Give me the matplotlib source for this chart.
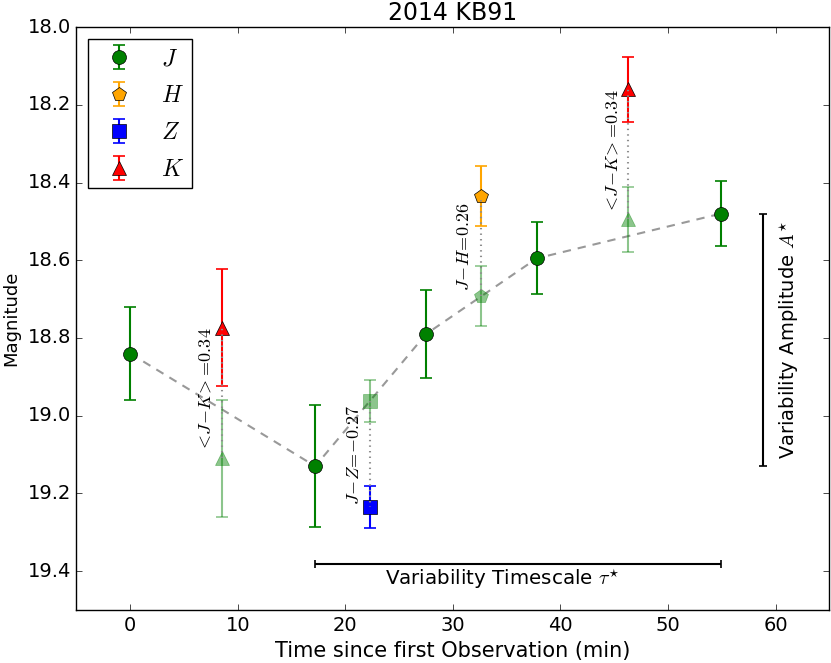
import numpy as np
import matplotlib
matplotlib.use("Agg")
import matplotlib.pyplot as plt

# J-band light curve
j_time = [0.0, 17.2, 27.5, 37.8, 54.9]
j_mag = [18.84, 19.13, 18.79, 18.595, 18.48]
j_err = [0.12, 0.157, 0.113, 0.093, 0.084]

# other filters (measured) and their J-equivalent (faded) points
band_names = ["K", "Z", "H", "K"]
band_time = [8.55, 22.3, 32.6, 46.3]
band_mag = [18.773, 19.235, 18.435, 18.16]
band_err = [0.15, 0.055, 0.078, 0.083]
jeq_mag = [19.11, 18.962, 18.692, 18.495]

color_labels = [r"$<\!J\!-\!K\!>\!=\!0.34$", r"$J\!-\!Z\!=\!{-}0.27$",
                r"$J\!-\!H\!=\!0.26$", r"$<\!J\!-\!K\!>\!=\!0.34$"]
label_x = [6.97, 20.76, 31.0, 44.8]
label_y = [18.934, 19.10, 18.566, 18.32]

styles = {
    "J": dict(marker="o", color="green"),
    "H": dict(marker="p", color="orange"),
    "Z": dict(marker="s", color="blue"),
    "K": dict(marker="^", color="red"),
}

plt.style.use("classic")
plt.rcParams["figure.facecolor"] = "white"
plt.rcParams["savefig.facecolor"] = "white"
plt.rcParams["font.size"] = 14

fig, ax = plt.subplots(figsize=(8.31, 6.63), dpi=100)
fig.subplots_adjust(left=0.092, right=0.998, top=0.959, bottom=0.08)

ax.plot(j_time, j_mag, "--", color="0.6", lw=1.5, dashes=(6, 5), zorder=1)

cap = 4.2
handles = {}
h = ax.errorbar(j_time, j_mag, yerr=j_err, fmt="o", color="green", mec="k",
                ms=10, capsize=cap, elinewidth=1.5, capthick=1.2, zorder=4)
handles["J"] = h

for name, t, m, e, mj in zip(band_names, band_time, band_mag, band_err, jeq_mag):
    st = styles[name]
    # J-equivalent faded point
    ax.errorbar([t], [mj], yerr=[e], fmt=styles[name]["marker"], color="green",
                mec="green", alpha=0.45, ms=10, capsize=cap, elinewidth=1.5,
                capthick=1.2, zorder=2)
    h = ax.errorbar([t], [m], yerr=[e], fmt=st["marker"], color=st["color"],
                    mec="k", ms=10, capsize=cap, elinewidth=1.5, capthick=1.2,
                    zorder=3)
    handles.setdefault(name, h)
    ax.plot([t, t], [mj, m], ":", color="0.55", lw=1.5, zorder=5)

for txt, x, y in zip(color_labels, label_x, label_y):
    ax.text(x, y, txt, rotation=90, ha="center", va="center", fontsize=13)

# variability timescale
t0, t1 = j_time[1], j_time[-1]
ax.errorbar([(t0 + t1) / 2], [19.382], xerr=[(t1 - t0) / 2], fmt="none",
            ecolor="k", elinewidth=1.5, capsize=3, capthick=1.2)
ax.text(34.6, 19.42, r"Variability Timescale $\tau^{\star}$",
        ha="center", va="center", fontsize=14.3)

# variability amplitude
a0, a1 = min(j_mag), max(j_mag)
ax.errorbar([58.8], [(a0 + a1) / 2], yerr=[(a1 - a0) / 2], fmt="none",
            ecolor="k", elinewidth=1.5, capsize=3, capthick=1.2)
ax.text(61.3, (a0 + a1) / 2, r"Variability Amplitude $A^{\star}$",
        rotation=90, ha="center", va="center", fontsize=14)

ax.set_xlim(-5, 65)
ax.set_ylim(19.5, 18.0)
ax.set_yticks(np.arange(18.0, 19.41, 0.2))
ax.set_xlabel("Time since first Observation (min)", fontsize=15)
ax.set_ylabel("Magnitude", fontsize=13)
ax.set_title("2014 KB91", fontsize=17)

order = ["J", "H", "Z", "K"]
ax.legend([handles[k] for k in order], ["$%s$" % k for k in order],
          loc="upper left", numpoints=1, fontsize=17, handlelength=2.0,
          borderpad=0.3, labelspacing=0.55, handletextpad=0.8,
          borderaxespad=0.5)

plt.savefig("out.png", dpi=100)
